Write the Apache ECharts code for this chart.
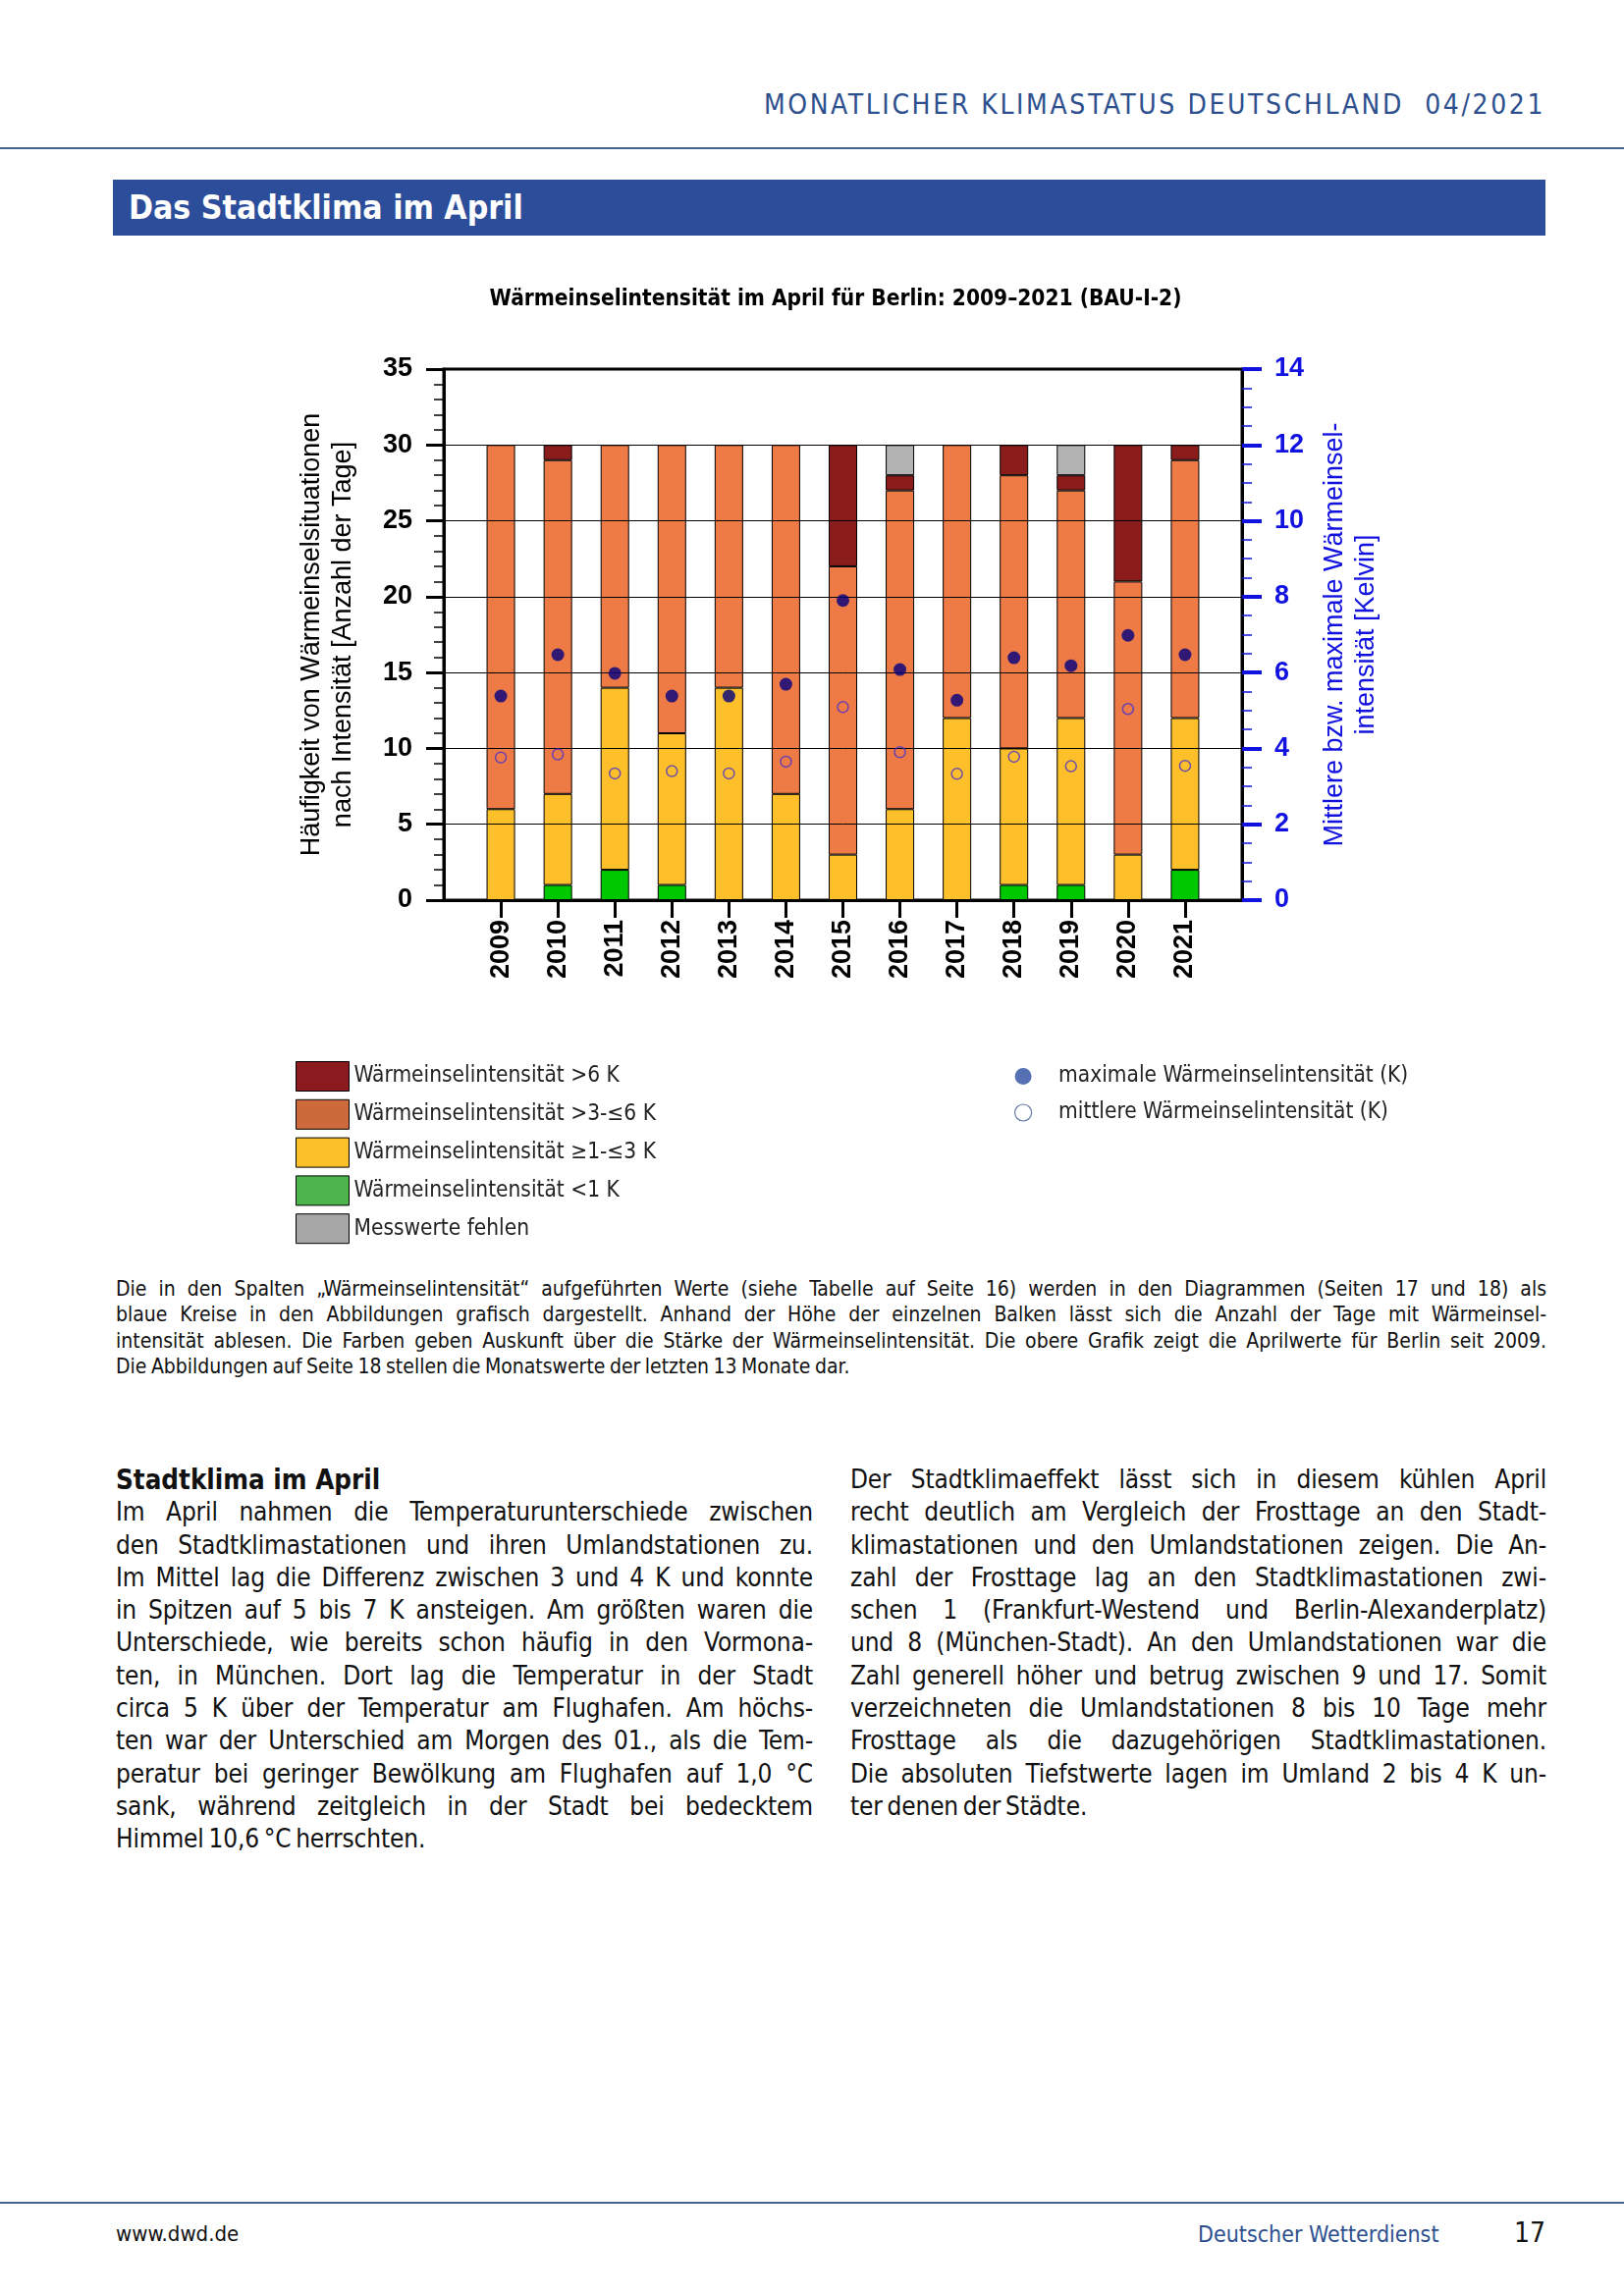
<!DOCTYPE html>
<html>
<head>
<meta charset="utf-8">
<script src="https://cdn.jsdelivr.net/npm/echarts@6/dist/echarts.min.js"></script>
<style>
  html, body { margin: 0; padding: 0; background: #fff; }
  #page { position: relative; width: 1654px; height: 2339px; overflow: hidden; background: #fff;
          font-family: 'DejaVu Sans Condensed', 'DejaVu Sans', sans-serif; font-stretch: condensed; color: #111; }
  #chart { position: absolute; left: 0; top: 0; width: 1654px; height: 1300px; }
  .abs { position: absolute; white-space: nowrap; }
  #hdr { right: 80px; top: 89px; font-size: 28px; line-height: 36px; letter-spacing: 2.6px; color: #2d4f8e; white-space: pre; }
  .rule { position: absolute; left: 0; width: 1654px; height: 2px; background: #45638f; }
  #banner { position: absolute; left: 115px; top: 183px; width: 1459px; height: 57px; background: #2c4d9a; }
  #banner span { position: absolute; left: 16px; top: 0; line-height: 57px; font-size: 33.5px; font-weight: bold; color: #fff; }
  .para div, .col div { text-align: justify; text-align-last: justify; white-space: nowrap; }
  .para div.last, .col div.last, .col div.head { text-align-last: left; }
  .para { position: absolute; left: 118px; top: 1300px; width: 1457px; font-size: 21px; line-height: 26.4px; word-spacing: -1.5px; }
  .col { position: absolute; top: 1491px; font-size: 26px; line-height: 33.3px; word-spacing: -2.5px; letter-spacing: -0.15px; }
  .col div.head { font-weight: bold; font-size: 27.5px; letter-spacing: 0; word-spacing: 0; }
</style>
</head>
<body>
<div id="page">
  <div id="hdr" class="abs">MONATLICHER KLIMASTATUS DEUTSCHLAND  04/2021</div>
  <div class="rule" style="top:150px"></div>
  <div id="banner"><span>Das Stadtklima im April</span></div>
  <div id="chart"></div>

  <div class="para">
    <div>Die in den Spalten „Wärmeinselintensität“ aufgeführten Werte (siehe Tabelle auf Seite 16) werden in den Diagrammen (Seiten 17 und 18) als</div>
    <div>blaue Kreise in den Abbildungen grafisch dargestellt. Anhand der Höhe der einzelnen Balken lässt sich die Anzahl der Tage mit Wärmeinsel-</div>
    <div>intensität ablesen. Die Farben geben Auskunft über die Stärke der Wärmeinselintensität. Die obere Grafik zeigt die Aprilwerte für Berlin seit 2009.</div>
    <div class="last">Die Abbildungen auf Seite 18 stellen die Monatswerte der letzten 13 Monate dar.</div>
  </div>

  <div class="col" style="left:118px; width:710px;">
    <div class="head">Stadtklima im April</div>
    <div>Im April nahmen die Temperaturunterschiede zwischen</div>
    <div>den Stadtklimastationen und ihren Umlandstationen zu.</div>
    <div>Im Mittel lag die Differenz zwischen 3 und 4 K und konnte</div>
    <div>in Spitzen auf 5 bis 7 K ansteigen. Am größten waren die</div>
    <div>Unterschiede, wie bereits schon häufig in den Vormona-</div>
    <div>ten, in München. Dort lag die Temperatur in der Stadt</div>
    <div>circa 5 K über der Temperatur am Flughafen. Am höchs-</div>
    <div>ten war der Unterschied am Morgen des 01., als die Tem-</div>
    <div>peratur bei geringer Bewölkung am Flughafen auf 1,0 °C</div>
    <div>sank, während zeitgleich in der Stadt bei bedecktem</div>
    <div class="last">Himmel 10,6 °C herrschten.</div>
  </div>

  <div class="col" style="left:866px; width:709px;">
    <div>Der Stadtklimaeffekt lässt sich in diesem kühlen April</div>
    <div>recht deutlich am Vergleich der Frosttage an den Stadt-</div>
    <div>klimastationen und den Umlandstationen zeigen. Die An-</div>
    <div>zahl der Frosttage lag an den Stadtklimastationen zwi-</div>
    <div>schen 1 (Frankfurt-Westend und Berlin-Alexanderplatz)</div>
    <div>und 8 (München-Stadt). An den Umlandstationen war die</div>
    <div>Zahl generell höher und betrug zwischen 9 und 17. Somit</div>
    <div>verzeichneten die Umlandstationen 8 bis 10 Tage mehr</div>
    <div>Frosttage als die dazugehörigen Stadtklimastationen.</div>
    <div>Die absoluten Tiefstwerte lagen im Umland 2 bis 4 K un-</div>
    <div class="last">ter denen der Städte.</div>
  </div>

  <div class="rule" style="top:2243px"></div>
  <div class="abs" style="left:118px; top:2261px; font-size:22px; line-height:30px;">www.dwd.de</div>
  <div class="abs" style="left:1220px; top:2261px; font-size:23px; line-height:30px; color:#2d4f8e;">Deutscher Wetterdienst</div>
  <div class="abs" style="right:80px; top:2258px; font-size:28px; line-height:34px;">17</div>
</div>

<script>
// ---- data ----
const years = ['2009','2010','2011','2012','2013','2014','2015','2016','2017','2018','2019','2020','2021'];
const daysLt1   = [0, 1, 2, 1, 0, 0, 0, 0, 0, 1, 1, 0, 2];
const days1to3  = [6, 6, 12, 10, 14, 7, 3, 6, 12, 9, 11, 3, 10];
const days3to6  = [24, 22, 16, 19, 16, 23, 19, 21, 18, 18, 15, 18, 17];
const daysGt6   = [0, 1, 0, 0, 0, 0, 8, 1, 0, 2, 1, 9, 1];
const daysMissing = [0, 0, 0, 0, 0, 0, 0, 2, 0, 0, 2, 0, 0];
const maxIntensity  = [5.38, 6.47, 5.98, 5.38, 5.38, 5.69, 7.9, 6.08, 5.27, 6.39, 6.18, 6.98, 6.47];
const meanIntensity = [3.76, 3.84, 3.34, 3.4, 3.34, 3.65, 5.09, 3.9, 3.33, 3.78, 3.53, 5.04, 3.54];
const leftTicks = [0, 5, 10, 15, 20, 25, 30, 35];
const rightTicks = [0, 2, 4, 6, 8, 10, 12, 14];

// category axis padded with an empty slot at each end
const cats = [''].concat(years, ['']);
const pad = arr => [null].concat(arr.map(v => v === 0 ? null : v), [null]);

const COND = "'DejaVu Sans Condensed', 'DejaVu Sans', sans-serif";
const ARIAL = "'Liberation Sans', Arial, sans-serif";
const BLUE = '#1212e0';

const names = {
  gt6: 'Wärmeinselintensität >6 K',
  k36: 'Wärmeinselintensität >3-≤6 K',
  k13: 'Wärmeinselintensität ≥1-≤3 K',
  lt1: 'Wärmeinselintensität <1 K',
  miss: 'Messwerte fehlen',
  max: 'maximale Wärmeinselintensität (K)',
  mean: 'mittlere Wärmeinselintensität (K)'
};

function barSeries(name, data, color) {
  return {
    name: name, type: 'bar', stack: 'days', barWidth: 29,
    data: pad(data),
    itemStyle: { color: color, borderColor: '#000', borderWidth: 1 },
    emphasis: { disabled: true }
  };
}

const chart = echarts.init(document.getElementById('chart'), null, { renderer: 'canvas' });
chart.setOption({
  animation: false,
  backgroundColor: 'transparent',
  title: {
    text: 'Wärmeinselintensität im April für Berlin: 2009–2021 (BAU-I-2)',
    left: 846, top: 289, textAlign: 'center',
    textStyle: { fontFamily: COND, fontWeight: 'bold', fontSize: 22.5, color: '#000' }
  },
  legend: [
    {
      orient: 'vertical', left: 296, top: 1076, itemWidth: 54, itemHeight: 30, itemGap: 7.8,
      selectedMode: false, icon: 'rect',
      textStyle: { fontFamily: COND, fontSize: 22.5, color: '#222' },
      data: [
        { name: names.gt6, icon: 'rect', itemStyle: { color: '#8b1a1e', borderColor: '#000', borderWidth: 1 } },
        { name: names.k36, icon: 'rect', itemStyle: { color: '#cc6a3c', borderColor: '#000', borderWidth: 1 } },
        { name: names.k13, icon: 'rect', itemStyle: { color: '#fcc12a', borderColor: '#000', borderWidth: 1 } },
        { name: names.lt1, icon: 'rect', itemStyle: { color: '#4bb54b', borderColor: '#000', borderWidth: 1 } },
        { name: names.miss, icon: 'rect', itemStyle: { color: '#a6a6a6', borderColor: '#000', borderWidth: 1 } }
      ]
    },
    {
      orient: 'vertical', left: 1028, top: 1080, itemWidth: 62, itemHeight: 17, itemGap: 14,
      selectedMode: false,
      textStyle: { fontFamily: COND, fontSize: 22.5, color: '#222', lineHeight: 22 },
      data: [
        { name: names.max, icon: 'circle', itemStyle: { color: '#2c4ea0', borderWidth: 0 } },
        { name: names.mean, icon: 'circle', itemStyle: { color: '#fff', borderColor: '#3a5590', borderWidth: 1.2 } }
      ]
    }
  ],
  grid: {
    left: 452, top: 376, width: 813, height: 541,
    show: true, borderColor: '#000', borderWidth: 3, backgroundColor: 'transparent'
  },
  xAxis: {
    type: 'category', data: cats, boundaryGap: false, z: 3,
    axisLine: { show: true, lineStyle: { color: '#000', width: 3 } },
    axisTick: { show: true, length: 18, lineStyle: { color: '#000', width: 3 },
                interval: (i) => i > 0 && i < cats.length - 1 },
    axisLabel: { interval: 0, rotate: 90, margin: 20, fontFamily: ARIAL, fontWeight: 'bold', fontSize: 27, color: '#000' },
    splitLine: { show: false }
  },
  yAxis: [
    {
      type: 'value', position: 'left', min: leftTicks[0], max: leftTicks[leftTicks.length - 1], interval: 5, z: 3,
      name: 'Häufigkeit von Wärmeinselsituationen\nnach Intensität [Anzahl der Tage]',
      nameLocation: 'middle', nameGap: 86, nameRotate: 90,
      nameTextStyle: { fontFamily: ARIAL, fontSize: 27, lineHeight: 32, color: '#000', align: 'center' },
      axisLine: { show: true, lineStyle: { color: '#000', width: 3 } },
      axisTick: { show: true, length: 18, lineStyle: { color: '#000', width: 3 } },
      minorTick: { show: true, splitNumber: 5, length: 10, lineStyle: { color: '#000', width: 1.5 } },
      splitLine: { show: true, lineStyle: { color: '#000', width: 1 } },
      axisLabel: { margin: 32, fontFamily: ARIAL, fontWeight: 'bold', fontSize: 27, color: '#000' }
    },
    {
      type: 'value', position: 'right', min: rightTicks[0], max: rightTicks[rightTicks.length - 1], interval: 2, z: 3,
      name: 'Mittlere bzw. maximale Wärmeinsel-\nintensität [Kelvin]',
      nameLocation: 'middle', nameGap: 79, nameRotate: 90,
      nameTextStyle: { fontFamily: ARIAL, fontSize: 27, lineHeight: 32, color: BLUE, align: 'center' },
      axisLine: { show: true, lineStyle: { color: '#000', width: 3 } },
      axisTick: { show: true, length: 20, lineStyle: { color: BLUE, width: 4 } },
      minorTick: { show: true, splitNumber: 4, length: 10, lineStyle: { color: BLUE, width: 1.5 } },
      splitLine: { show: false },
      axisLabel: { margin: 33, fontFamily: ARIAL, fontWeight: 'bold', fontSize: 27, color: BLUE }
    }
  ],
  series: [
    barSeries(names.lt1, daysLt1, '#00c800'),
    barSeries(names.k13, days1to3, '#fdc02b'),
    barSeries(names.k36, days3to6, '#ee7b46'),
    barSeries(names.gt6, daysGt6, '#8b1c1c'),
    barSeries(names.miss, daysMissing, '#b3b3b3'),
    {
      name: names.max, type: 'scatter', yAxisIndex: 1, z: 5,
      symbol: 'circle', symbolSize: 13,
      data: [null].concat(maxIntensity, [null]),
      itemStyle: { color: '#000080' }, emphasis: { disabled: true }
    },
    {
      name: names.mean, type: 'scatter', yAxisIndex: 1, z: 5,
      symbol: 'circle', symbolSize: 11,
      data: [null].concat(meanIntensity, [null]),
      itemStyle: { color: 'rgba(0,0,0,0)', borderColor: '#4b32c8', borderWidth: 1.5 }, emphasis: { disabled: true }
    }
  ]
});
</script>
</body>
</html>
